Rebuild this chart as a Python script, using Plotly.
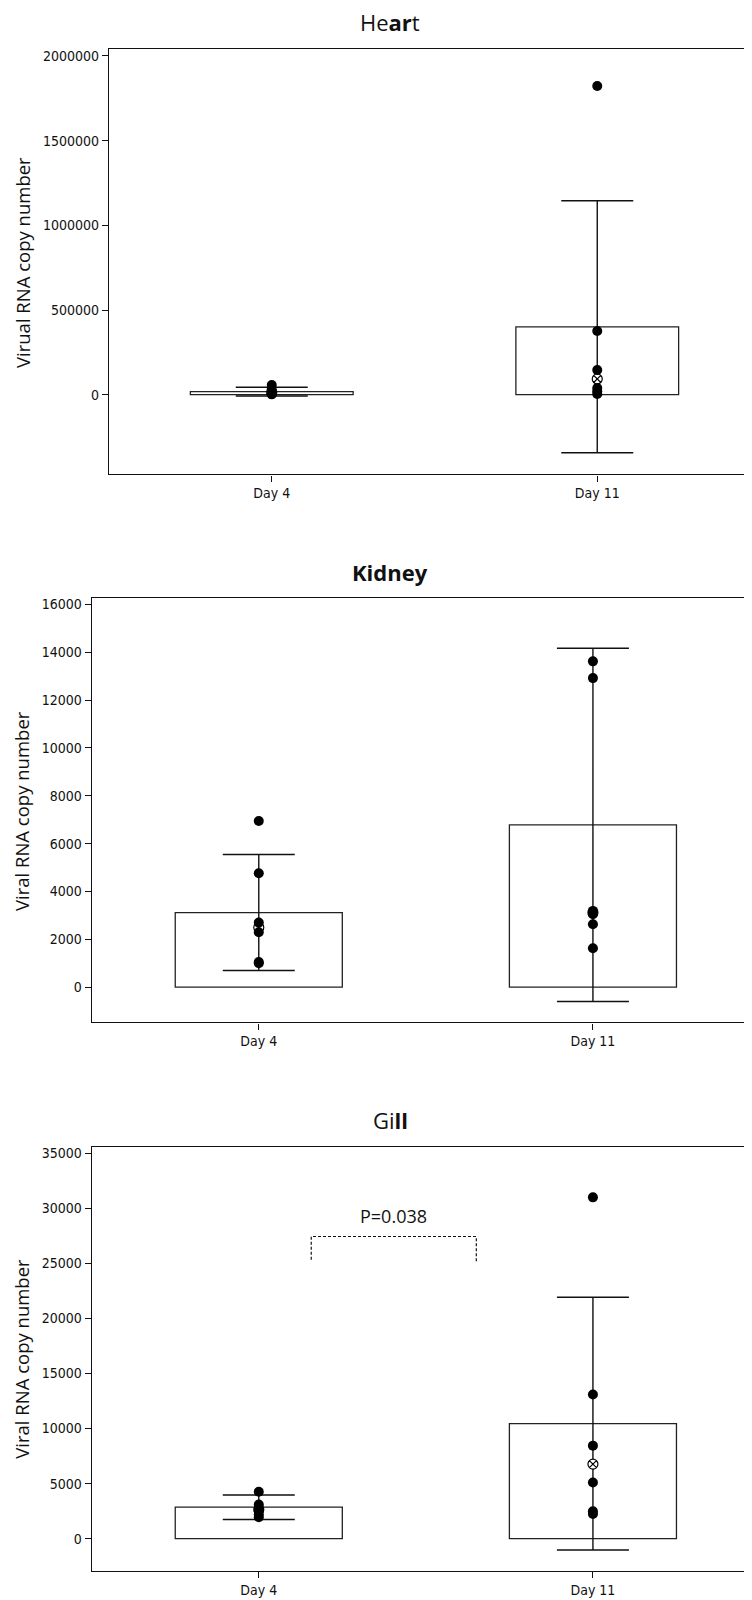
import plotly.graph_objects as go

# ---------------- data ----------------
categories = ["Day 4", "Day 11"]
cat_pos = [0, 1]

heart_mean = [18000, 401000]
heart_sd = [25700, 744000]
heart_day4 = [57000, 30000, 18000, 8000, 4000, 2000]
heart_day11 = [1823000, 376000, 146000, 40000, 20000, 4000]
heart_median = [13000, 93000]

kidney_mean = [3120, 6783]
kidney_sd = [2424, 7382]
kidney_day4 = [6950, 4760, 2700, 2300, 1050, 1000]
kidney_day11 = [13620, 12920, 3190, 3050, 2630, 1630]
kidney_median = [2500, 3120]

gill_mean = [2860, 10450]
gill_sd = [1110, 11480]
gill_day4 = [4270, 3100, 2800, 2500, 2200, 1950]
gill_day11 = [31000, 13100, 8450, 5100, 2500, 2250]
gill_median = [2650, 6775]

heart_ticks = [0, 500000, 1000000, 1500000, 2000000]
kidney_ticks = [0, 2000, 4000, 6000, 8000, 10000, 12000, 14000, 16000]
gill_ticks = [0, 5000, 10000, 15000, 20000, 25000, 30000, 35000]

# significance bracket (Gill)
bracket_x = [0.157, 0.157, 0.651, 0.651]
bracket_y = [25335, 27445, 27445, 25180]
p_text = "P=0.038"
p_pos = (0.404, 29350)

OFF = 8  # page body margin
panels = [
    dict(title="He<b>ar</b>t", ytitle="Virual RNA copy number", mean=heart_mean, sd=heart_sd,
         d4=heart_day4, d11=heart_day11, med=heart_median, ticks=heart_ticks,
         yrange=[-470000, 2043000], top=48.7, bottom=474.3, xleft=109,
         title_y=21.7, ytitle_y=263),
    dict(title="<b>Kidney</b>", ytitle="Viral RNA copy number", mean=kidney_mean, sd=kidney_sd,
         d4=kidney_day4, d11=kidney_day11, med=kidney_median, ticks=kidney_ticks,
         yrange=[-1467, 16280], top=597.7, bottom=1022.3, xleft=91.7,
         title_y=572, ytitle_y=811),
    dict(title="Gi<b>ll</b>", ytitle="Viral RNA copy number", mean=gill_mean, sd=gill_sd,
         d4=gill_day4, d11=gill_day11, med=gill_median, ticks=gill_ticks,
         yrange=[-2906, 35600], top=1146.7, bottom=1570.7, xleft=91.7,
         title_y=1120, ytitle_y=1358.7),
]

W, H = 752, 1600
tick_font = dict(family="DejaVu Sans Condensed, Open Sans, sans-serif", size=14, color="#111")
title_font = dict(family="Open Sans, sans-serif", size=22, color="#111")
axtitle_font = dict(family="Open Sans, sans-serif", size=18.5, color="#111")

fig = go.Figure()
layout = dict(width=W, height=H, margin=dict(l=0, r=0, t=0, b=0),
              paper_bgcolor="white", plot_bgcolor="white", showlegend=False,
              annotations=[], shapes=[])

for i, p in enumerate(panels):
    n = "" if i == 0 else str(i + 1)
    xa, ya = "x" + n, "y" + n
    fig.add_trace(go.Bar(
        x=cat_pos, y=p["mean"], width=0.5, xaxis=xa, yaxis=ya,
        marker=dict(color="white", line=dict(color="#222", width=1.3)),
        error_y=dict(type="data", array=p["sd"], visible=True, color="#111",
                     thickness=1.4, width=36),
    ))
    fig.add_trace(go.Scatter(
        x=cat_pos, y=p["med"], mode="markers", xaxis=xa, yaxis=ya,
        marker=dict(symbol="circle-x", size=10, color="white",
                    line=dict(color="black", width=1.2)),
    ))
    pts_x = [cat_pos[0]] * len(p["d4"]) + [cat_pos[1]] * len(p["d11"])
    pts_y = p["d4"] + p["d11"]
    fig.add_trace(go.Scatter(
        x=pts_x, y=pts_y, mode="markers", xaxis=xa, yaxis=ya,
        marker=dict(symbol="circle", size=10, color="black"),
    ))
    ydom = [1 - (p["bottom"] - OFF) / H, 1 - (p["top"] - OFF) / H]
    layout["xaxis" + n] = dict(
        domain=[(p["xleft"] - OFF) / W, 1], range=[-0.5, 1.5], anchor=ya,
        tickmode="array", tickvals=cat_pos, ticktext=categories,
        ticks="outside", ticklen=6, tickwidth=1.2, tickcolor="#111",
        showline=True, linecolor="#111", linewidth=1.4, mirror=True,
        showgrid=False, zeroline=False, tickfont=tick_font, fixedrange=True,
    )
    layout["yaxis" + n] = dict(
        domain=ydom, range=p["yrange"], anchor=xa,
        tickmode="array", tickvals=p["ticks"], ticktext=[str(t) for t in p["ticks"]],
        ticks="outside", ticklen=6, tickwidth=1.2, tickcolor="#111",
        showline=True, linecolor="#111", linewidth=1.4, mirror=True,
        showgrid=False, zeroline=False, tickfont=tick_font, fixedrange=True,
    )
    layout["annotations"].append(dict(
        text=p["title"], xref="paper", yref="paper", x=(390 - OFF) / W,
        y=1 - (p["title_y"] - OFF) / H,
        xanchor="center", yanchor="middle", showarrow=False, font=title_font))
    layout["annotations"].append(dict(
        text=p["ytitle"], xref="paper", yref="paper", x=(22 - OFF) / W,
        y=1 - (p["ytitle_y"] - OFF) / H,
        xanchor="center", yanchor="middle", textangle=-90, showarrow=False, font=axtitle_font))

# significance bracket in Gill panel
path = "M {} {} L {} {} L {} {} L {} {}".format(
    bracket_x[0], bracket_y[0], bracket_x[1], bracket_y[1],
    bracket_x[2], bracket_y[2], bracket_x[3], bracket_y[3])
layout["shapes"].append(dict(type="path", path=path, xref="x3", yref="y3",
                             line=dict(color="#111", width=1.2, dash="3px,2px")))
layout["annotations"].append(dict(
    text=p_text, xref="x3", yref="y3", x=p_pos[0], y=p_pos[1],
    xanchor="center", yanchor="middle", showarrow=False,
    font=dict(family="Open Sans, sans-serif", size=18, color="#111")))

fig.update_layout(**layout)
fig.write_html("out.html")
